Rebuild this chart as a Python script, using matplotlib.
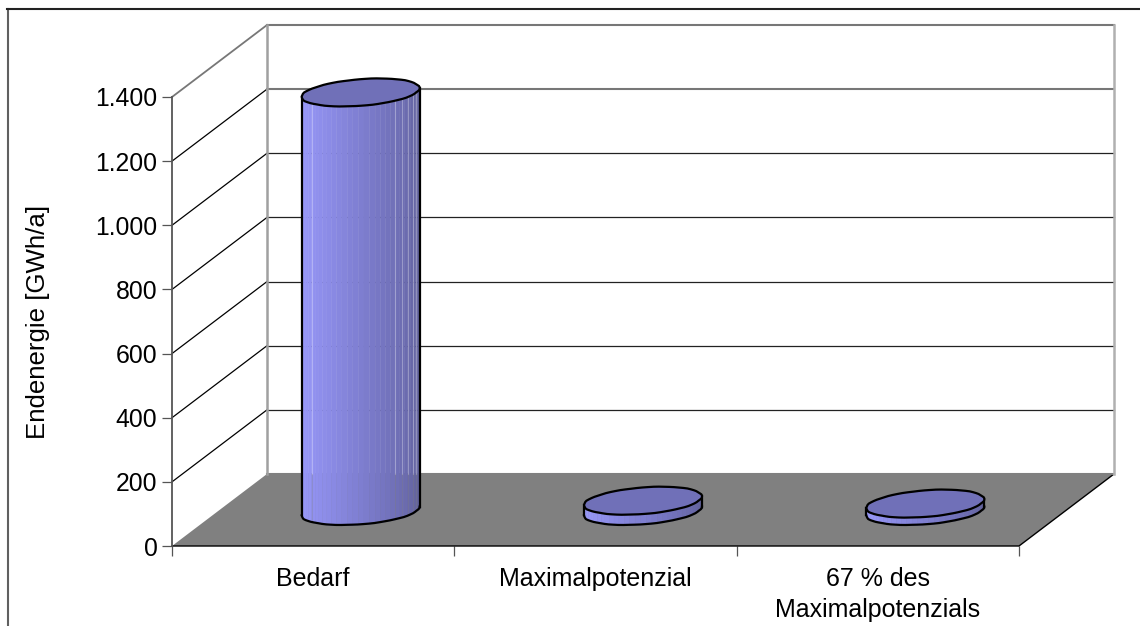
import numpy as np
import matplotlib
matplotlib.use("Agg")
import matplotlib.pyplot as plt
from matplotlib.colors import LinearSegmentedColormap
from matplotlib.patches import Polygon
from matplotlib.lines import Line2D

plt.rcParams['font.family'] = ['Liberation Sans', 'DejaVu Sans']

# data
categories = ['Bedarf', 'Maximalpotenzial', '67 % des\nMaximalpotenzials']
values = [1305, 32, 23]
yticks = [0, 200, 400, 600, 800, 1000, 1200, 1400]
ytick_labels = ['0', '200', '400', '600', '800', '1.000', '1.200', '1.400']

W, H = 1140, 626
left, right, bottom, top = 172, 1019, 546, 97  # front plane in pixels

fig = plt.figure(figsize=(W / 100, H / 100), dpi=100)
ax = fig.add_axes([left / W, 1 - bottom / H, (right - left) / W, (bottom - top) / H])
ax.set_xlim(0, 3)
ax.set_ylim(0, 1400)

# depth of the fake 3d box in data units
px_x = 3 / (right - left)
px_y = 1400 / (bottom - top)
dep_x = 95 * px_x
dep_y = 72 * px_y

# outer frame, only left and top end up inside the picture
fig.add_artist(Line2D([7.5 / W, 7.5 / W], [0, 1 - 9 / H], color='#606060', lw=1.5))
fig.add_artist(Line2D([7 / W, 1], [1 - 9 / H, 1 - 9 / H], color='#222222', lw=1.5))

for s in ax.spines.values():
    s.set_visible(False)
ax.patch.set_visible(False)

# floor
ax.add_patch(Polygon([(0, 0), (3, 0), (3 + dep_x, dep_y), (dep_x, dep_y)], fc='#808080', ec='none',
                     clip_on=False, zorder=1))
ax.plot([0, 3, 3 + dep_x], [0, 0, dep_y], color='black', lw=1.0, clip_on=False, zorder=2)

# walls
for v in yticks[1:]:
    c = '#777777' if v == 1400 else 'black'
    ax.plot([0, dep_x], [v, v + dep_y], color=c, lw=0.9 if v < 1400 else 1.3, clip_on=False, zorder=1)
    c = '#777777' if v >= 1200 else '#222222'
    ax.plot([dep_x, 3 + dep_x], [v + dep_y, v + dep_y], color=c, lw=0.9 if v < 1200 else 1.5,
            clip_on=False, zorder=1)
ax.plot([dep_x, 3 + dep_x], [dep_y, dep_y], color='#808080', lw=1.5, clip_on=False, zorder=2)
ax.plot([dep_x, dep_x], [dep_y, 1400 + dep_y], color='#a0a0a0', lw=1.8, clip_on=False, zorder=2)
ax.plot([3 + dep_x, 3 + dep_x], [dep_y, 1400 + dep_y], color='#b0b0b0', lw=1.8, clip_on=False, zorder=2)
ax.plot([0, 0], [0, 1400], color='#555555', lw=1.3, clip_on=False, zorder=2)

# ticks
ax.set_yticks(yticks)
ax.set_yticklabels(ytick_labels, fontsize=17.8)
ax.set_xticks([0, 1, 2, 3])
ax.set_xticklabels([])
ax.set_xticks([0.5, 1.5, 2.5], minor=True)
ax.set_xticklabels(categories, minor=True, fontsize=18, linespacing=1.4)
ax.tick_params(axis='x', which='major', length=7, width=0.9, color='#555555')
ax.tick_params(axis='x', which='minor', length=0, pad=15)
ax.tick_params(axis='y', length=7, width=0.9, color='#555555', pad=3.5)
ax.set_ylabel('Endenergie [GWh/a]', fontsize=18.6)
ax.yaxis.set_label_coords(-(172 - 50) / (right - left), 0.5)

# cylinders
cmap = LinearSegmentedColormap.from_list('cyl', ['#9c9cff', '#8a8ae4', '#7272bc', '#5e5e96'])
half_w = 56 * px_x
skew_x = 18.5 * px_x
skew_y = 14 * px_y
t0 = np.arctan2(skew_x, half_w)
n = 34
streaks = [0.085, 0.79, 0.85, 0.9, 0.94, 0.97]  # light seams on the tall bar


def ring(cx, base, t):
    # rim is slightly wavy in the original, kept off the two side tips
    r = 1 + 0.012 * np.sin(6 * (t - t0)) ** 2 * np.cos(9 * (t - t0))
    return cx + r * (half_w * np.cos(t) + skew_x * np.sin(t)), base + r * skew_y * np.sin(t)


for i, val in enumerate(values):
    cx = i + 0.5 + dep_x / 2
    base = dep_y / 2 - 1 * px_y

    # side: vertical strips across the front half
    t = np.linspace(t0 - np.pi, t0, n)
    x, y = ring(cx, base, t)
    for j in range(n - 1):
        ax.fill_between([x[j], x[j + 1]], [y[j], y[j + 1]], [y[j] + val, y[j + 1] + val],
                        color=cmap(j / (n - 2)), lw=0.3, clip_on=False, zorder=3)
    if val > dep_y:
        for f in streaks:
            sx = x.min() + f * (x.max() - x.min())
            sy = np.interp(sx, np.sort(x), y[np.argsort(x)])
            ax.plot([sx, sx], [dep_y, base + val], color='white', alpha=0.3, lw=0.8, clip_on=False, zorder=3)
            ax.plot([sx, sx], [sy, dep_y], color='#808080', alpha=0.3, lw=0.8, clip_on=False, zorder=3)
    ax.plot(x, y, color='black', lw=1.6, clip_on=False, zorder=4)
    ax.plot([x[0], x[0]], [y[0], y[0] + val], color='black', lw=1.6, clip_on=False, zorder=4)
    ax.plot([x[-1], x[-1]], [y[-1], y[-1] + val], color='black', lw=1.6, clip_on=False, zorder=4)

    # top
    t = np.linspace(0, 2 * np.pi, 2 * n - 1)
    x, y = ring(cx, base + val, t)
    ax.fill(x, y, fc='#7070b8', ec='black', lw=1.6, clip_on=False, zorder=5)

fig.savefig('out.png', dpi=100)
